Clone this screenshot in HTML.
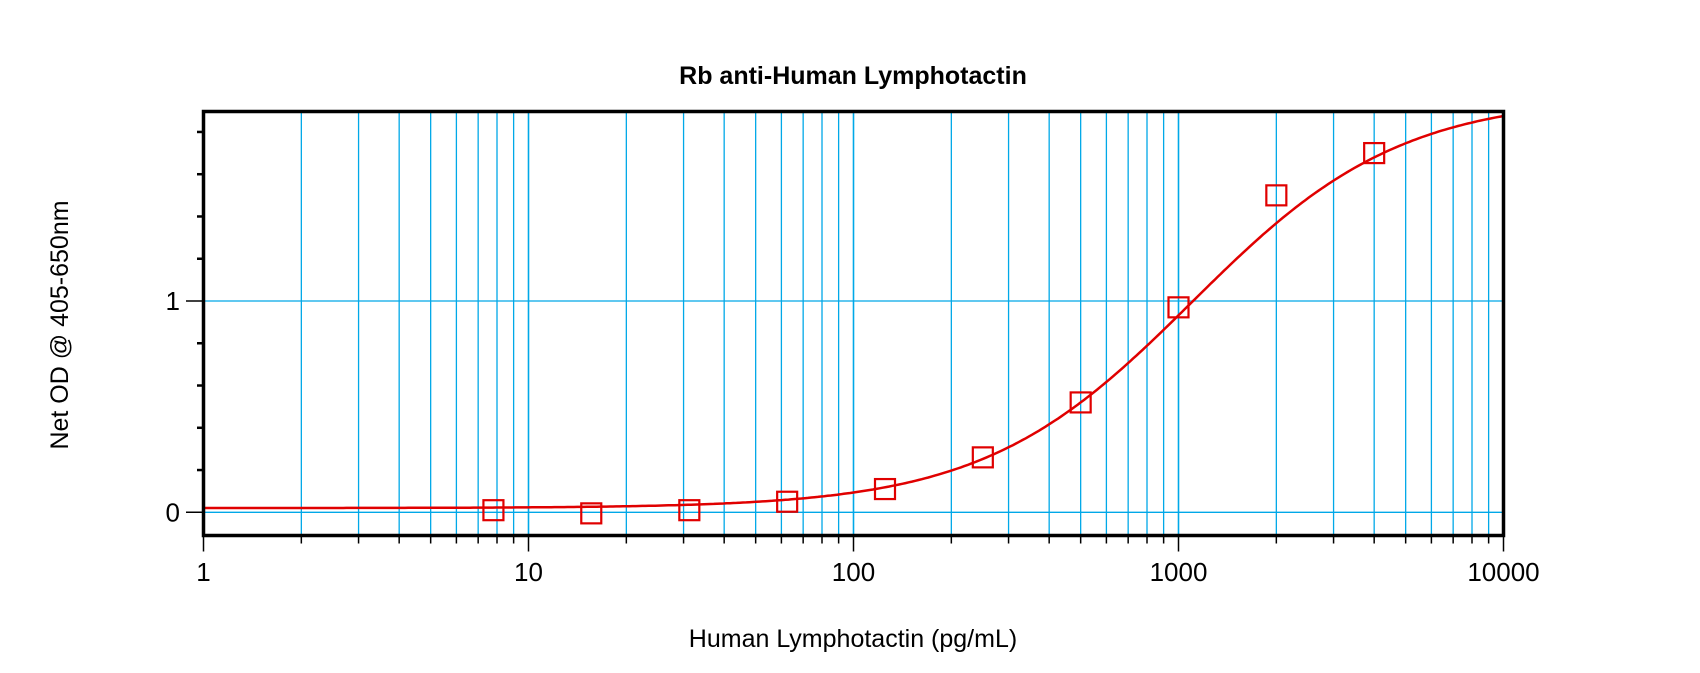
<!DOCTYPE html>
<html><head><meta charset="utf-8"><style>body{margin:0;background:#fff}svg{display:block}</style></head>
<body>
<svg id="chart" width="1700" height="673" xmlns="http://www.w3.org/2000/svg" font-family="Liberation Sans, Arial, sans-serif">
<text x="853" y="84" text-anchor="middle" font-size="25" font-weight="bold">Rb anti-Human Lymphotactin</text>
<text x="853" y="647" text-anchor="middle" font-size="25">Human Lymphotactin (pg/mL)</text>
<text transform="translate(68,325) rotate(-90)" text-anchor="middle" font-size="25">Net OD @ 405-650nm</text>
<g id="grid"></g><g id="ticks"></g><g id="curve"></g><g id="points"></g>
<rect x="203.5" y="111.5" width="1300" height="424" fill="none" stroke="#000" stroke-width="3.5"/>
</svg>
<script>
const concentrations = [7.8, 15.6, 31.25, 62.5, 125, 250, 500, 1000, 2000, 4000];
const odValues = [0.01, -0.005, 0.01, 0.05, 0.11, 0.26, 0.52, 0.97, 1.50, 1.70];
const xTickLabels = ["1", "10", "100", "1000", "10000"];
const yTickLabels = ["0", "1"];
const fitParams = [0.02, 1.97, 1100, 1.35]; // bottom, top, EC50, hill

const NS = "http://www.w3.org/2000/svg";
const L = 203.5, R = 1503.5, T = 111.5, B = 535.5;
const y0 = 512.3, yUnit = 211.3;
const xS = v => L + (Math.log10(v)) * (R - L) / 4;
const yS = v => y0 - v * yUnit;
function mk(tag, attrs, parent) {
  const e = document.createElementNS(NS, tag);
  for (const k in attrs) e.setAttribute(k, attrs[k]);
  document.getElementById(parent).appendChild(e);
  return e;
}
// vertical grid + x ticks
for (let d = 0; d < 4; d++) {
  for (let m = 1; m <= 10; m++) {
    const v = Math.pow(10, d) * m;
    const x = xS(v);
    if (m > 1 && !(d === 3 && m === 10)) {
      const g = mk("line", {x1: x, x2: x, y1: T, y2: B, stroke: "#00a8e8", "stroke-width": m === 10 ? 1.6 : 1.3}, "grid");
      
      
    }
    if (m === 1 && d > 0) continue;
    const major = (m === 1 || m === 10);
    const t = mk("line", {x1: x, x2: x, y1: B, y2: B + (major ? 16 : 8), stroke: "#000", "stroke-width": 1.5}, "ticks");
    
    
  }
}
xTickLabels.forEach((lab, i) => {
  const t = mk("text", {x: xS(Math.pow(10, i)), y: 581, "text-anchor": "middle", "font-size": 26}, "ticks");
  t.textContent = lab;
  
  
});
// horizontal grid + y ticks
yTickLabels.forEach((lab, i) => {
  const v = Number(lab), y = yS(v);
  const g = mk("line", {x1: L, x2: R, y1: y, y2: y, stroke: "#00a8e8", "stroke-width": 1.3}, "grid");
  
  
  const t = mk("text", {x: 180, y: y + 9, "text-anchor": "end", "font-size": 26}, "ticks");
  t.textContent = lab;
  
  
});
for (let k = 0; k <= 9; k++) {
  const v = k * 0.2, y = yS(v);
  const major = (k === 0 || k === 5);
  const t = mk("line", {x1: major ? 186 : 197, x2: L, y1: y, y2: y, stroke: "#000", "stroke-width": major ? 1.5 : 2.5}, "ticks");
  
  
}
// fitted curve
const [A, D, C, Bh] = fitParams;
const f = x => D + (A - D) / (1 + Math.pow(x / C, Bh));
let d = "";
for (let i = 0; i <= 400; i++) {
  const lx = i / 100, x = Math.pow(10, lx);
  d += (i ? "L" : "M") + xS(x).toFixed(1) + "," + yS(f(x)).toFixed(1);
}
const c = mk("path", {d: d, fill: "none", stroke: "#e00000", "stroke-width": 2.5}, "curve");


// points
concentrations.forEach((x, i) => {
  const p = mk("rect", {x: xS(x) - 10, y: yS(odValues[i]) - 10, width: 20, height: 20, fill: "none", stroke: "#e00000", "stroke-width": 2.2}, "points");
  
  
});
</script>
</body></html>
